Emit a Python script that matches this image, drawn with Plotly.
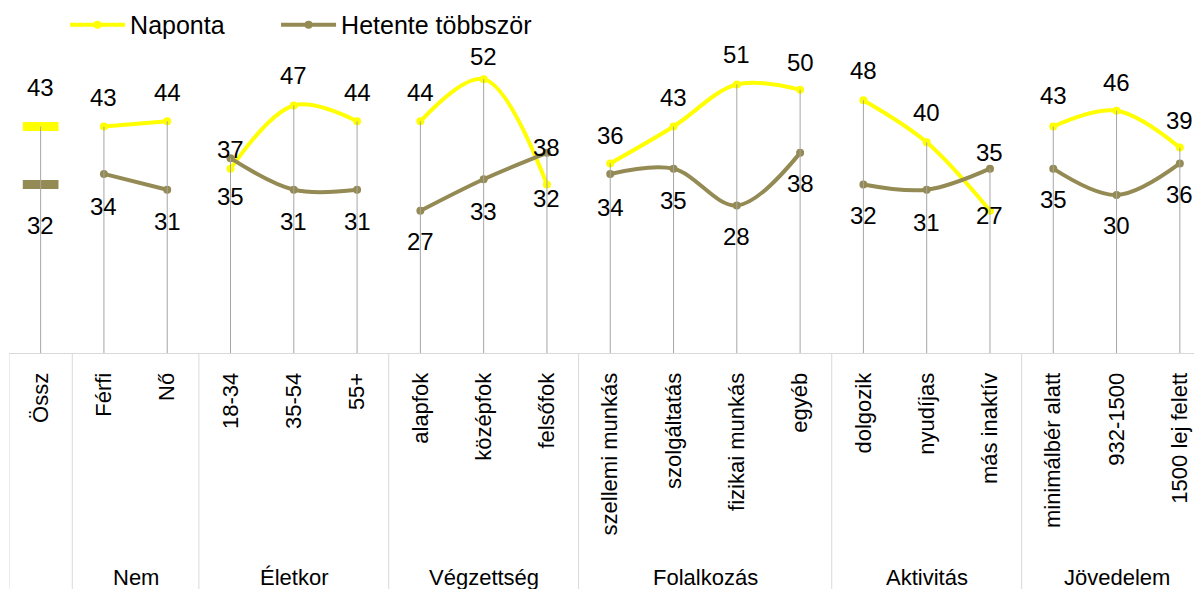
import plotly.graph_objects as go

# ---- data ----
categories = ["Össz", "Férfi", "Nő", "18-34", "35-54", "55+",
              "alapfok", "középfok", "felsőfok",
              "szellemi munkás", "szolgáltatás", "fizikai munkás", "egyéb",
              "dolgozik", "nyudíjas", "más inaktív",
              "minimálbér alatt", "932-1500", "1500 lej felett"]
groups = ["", "Nem", "Életkor", "Végzettség", "Folalkozás", "Aktivitás", "Jövedelem"]
group_sizes = [1, 2, 3, 3, 4, 3, 3]
naponta = [43, 43, 44, 35, 47, 44, 44, 52, 32, 36, 43, 51, 50, 48, 40, 27, 43, 46, 39]
hetente = [32, 34, 31, 37, 31, 31, 27, 33, 38, 34, 35, 28, 38, 32, 31, 35, 35, 30, 36]

# label offsets (px, positive = above point)
nap_dy = [39, 29, 29, -28, 30, 29, 29, 23, -14, 28, 29, 30, 27, 30, 30, -5, 31, 28, 27]
het_dy = [-41, -33, -32, 9, -32, -32, -31, -32, 5, -34, -32, -31, -31, -31, -33, 16, -31, -30, -31]

YELLOW = "#FFFF00"
OLIVE = "#948A54"
FONT = "Liberation Sans, Arial, sans-serif"

# build segmented series (gap between groups); first group (Össz) drawn as dash marker
def segmented(values):
    xs, ys = [], []
    start = 0
    for gi, size in enumerate(group_sizes):
        idx = list(range(start, start + size))
        if gi > 0:
            xs += idx + [None]
            ys += [values[i] for i in idx] + [None]
        start += size
    return xs, ys

fig = go.Figure()

for name, vals, col, lw in [("Naponta", naponta, YELLOW, 141), ("Hetente többször", hetente, OLIVE, 260)]:
    xs, ys = segmented(vals)
    fig.add_trace(go.Scatter(
        x=xs, y=ys, name=name, mode="lines+markers",
        line=dict(color=col, width=4, shape="spline", smoothing=1.0),
        marker=dict(color=col, size=8, symbol="circle"),
        connectgaps=False, legendwidth=lw,
    ))

# Össz dash markers
for vals, col in [(naponta, YELLOW), (hetente, OLIVE)]:
    fig.add_trace(go.Scatter(
        x=[0], y=[vals[0]], mode="markers", showlegend=False,
        marker=dict(symbol="line-ew", size=25.5, color=col,
                    line=dict(color=col, width=9)),
    ))

# drop lines
dx, dy = [], []
for i in range(len(categories)):
    dx += [i, i, None]
    dy += [max(naponta[i], hetente[i]), 0, None]
fig.add_trace(go.Scatter(x=dx, y=dy, mode="lines", showlegend=False,
                         line=dict(color="#A6A6A6", width=1), hoverinfo="skip"))

# data labels
ann = []
for i in range(len(categories)):
    ann.append(dict(x=i, y=naponta[i], text=str(naponta[i]), showarrow=False,
                    yshift=nap_dy[i], font=dict(size=24, color="#000000", family=FONT)))
    ann.append(dict(x=i, y=hetente[i], text=str(hetente[i]), showarrow=False,
                    yshift=het_dy[i], font=dict(size=24, color="#000000", family=FONT)))

# group labels and separators
shapes = []
start = 0
bounds = [-0.5]
for gi, size in enumerate(group_sizes):
    center = start + (size - 1) / 2
    if groups[gi]:
        ann.append(dict(x=center, y=-0.712, yref="paper", text=groups[gi], showarrow=False,
                        font=dict(size=22, color="#000000", family=FONT), yanchor="middle"))
    start += size
    bounds.append(start - 0.5)
for b in bounds:
    shapes.append(dict(type="line", xref="x", yref="paper", x0=b, x1=b, y0=0, y1=-0.76,
                       line=dict(color="#D9D9D9", width=1)))

fig.update_layout(
    width=1194, height=581, autosize=False,
    margin=dict(l=1, r=0, t=29, b=236, autoexpand=False),
    paper_bgcolor="white", plot_bgcolor="white",
    font=dict(family=FONT, color="#000000"),
    showlegend=True,
    legend=dict(orientation="h", x=0.047, y=1.038, xanchor="left", yanchor="middle",
                font=dict(size=25, family=FONT), itemwidth=55, bgcolor="rgba(0,0,0,0)",
                tracegroupgap=0),
    annotations=ann, shapes=shapes,
    xaxis=dict(range=[-0.5, 18.35], tickmode="array", tickvals=list(range(len(categories))),
               ticktext=categories, tickangle=-90, showgrid=False, zeroline=False,
               showline=True, linecolor="#D9D9D9", linewidth=1, ticks="", automargin=False,
               tickfont=dict(size=22, family=FONT, color="#000000"), ticklabelstandoff=10),
    yaxis=dict(range=[0, 60], visible=False, showgrid=False, zeroline=False, automargin=False),
)

fig.write_html("out.html")
